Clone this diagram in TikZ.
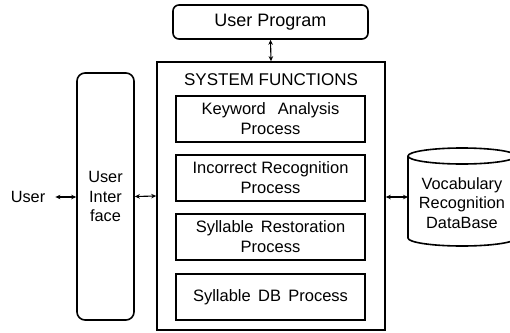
\documentclass[tikz,border=0pt]{standalone}
\usepackage{fontspec}
\setmainfont{Liberation Sans}
\usetikzlibrary{arrows.meta}
\begin{document}
\begin{tikzpicture}[x=1pt,y=-1pt,
  box/.style={draw, line width=1.6pt, inner sep=0pt},
  procbox/.style={box, minimum width=189pt, minimum height=46pt, align=center, font=\fontsize{16.5}{20}\selectfont},
  arr/.style={{Stealth[length=5pt,width=4.5pt]}-{Stealth[length=5pt,width=4.5pt]}, line width=1.1pt},
  lbl/.style={font=\fontsize{16.3}{19.5}\selectfont, align=center}]
\useasboundingbox (0,0) rectangle (510,332);
% user program
\node[box, rounded corners=6pt, minimum width=195pt, minimum height=34pt, font=\fontsize{18}{21}\selectfont] (up) at (270.5,22) {User Program};
% system functions
\node[box, minimum width=228pt, minimum height=268pt] (sf) at (271,196) {};
\node[lbl, font=\fontsize{17}{20}\selectfont] (sft) at (271,80) {SYSTEM FUNCTIONS};
\node[procbox] (p1) at (270.5,119) {Keyword\ \ \,Analysis\\Process};
\node[procbox] (p2) at (270.5,178) {Incorrect Recognition\\Process};
\node[procbox] (p3) at (270.5,237) {Syllable\ \,Restoration\\Process};
\node[procbox] (p4) at (270.5,297) {Syllable\ \,DB\ \,Process};
% user interface
\node[box, rounded corners=8pt, minimum width=57pt, minimum height=247pt, align=center, font=\fontsize{16.3}{19.5}\selectfont] (ui) at (105.5,196.5) {User\\Inter\\face};
% user
\node[lbl, inner sep=0pt] (user) at (28,197) {User};
% database cylinder
\draw[line width=1.6pt, fill=white] (408,156) -- (408,238) arc[start angle=180, end angle=360, x radius=54pt, y radius=8pt] -- (516,156);
\draw[line width=1.6pt, fill=white] (462,156) ellipse[x radius=54pt, y radius=8pt];
\node[lbl, minimum width=108pt, inner sep=0pt] (db) at (462,203) {Vocabulary\\Recognition\\DataBase};
\coordinate (dbw) at (408,197);
% connectors
\draw[arr] (up.south) -- (sf.north);
\draw[arr] ([xshift=10pt]user.east) -- (ui.west |- user.east);
\draw[arr] (ui.east) -- (sf.west);
\draw[arr] (sf.east |- dbw) -- (dbw);
\end{tikzpicture}
\end{document}
